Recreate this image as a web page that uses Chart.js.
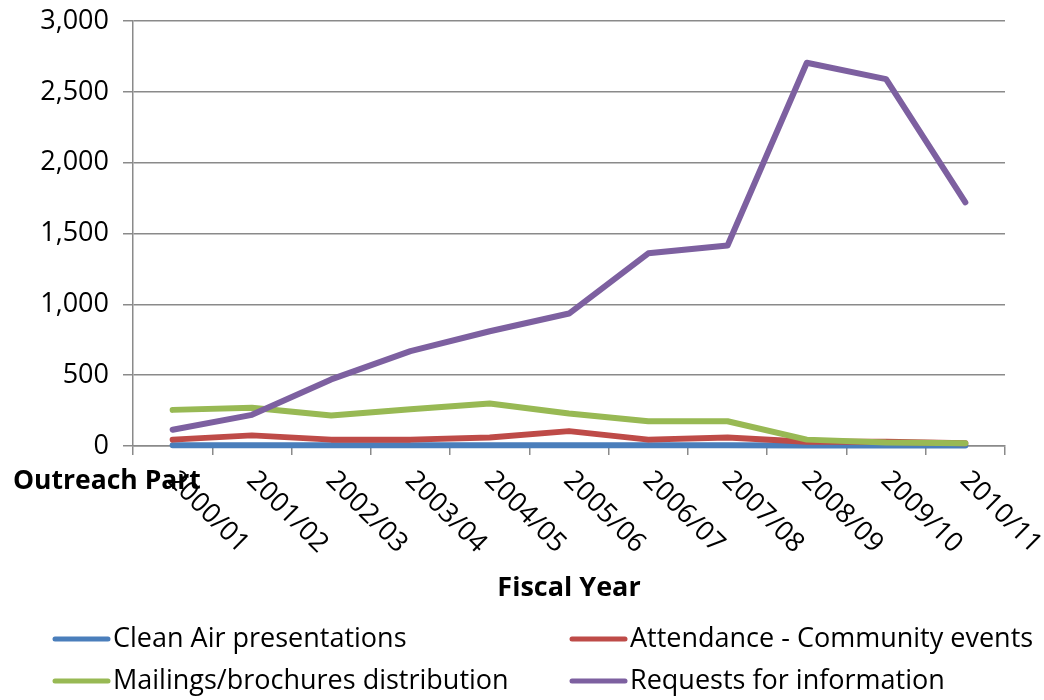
<!DOCTYPE html>
<html>
<head>
<meta charset="utf-8">
<script src="https://cdn.jsdelivr.net/npm/chart.js@4.4.1/dist/chart.umd.min.js"></script>
<style>
  html, body { margin: 0; padding: 0; background: #fff; }
  #wrap { width: 1044px; height: 700px; }
</style>
</head>
<body>
<div id="wrap"><canvas id="outreach-chart" width="1044" height="700"></canvas></div>
<script>
// Fiscal years on the x axis
const fiscalYears = [
  "2000/01", "2001/02", "2002/03", "2003/04", "2004/05", "2005/06",
  "2006/07", "2007/08", "2008/09", "2009/10", "2010/11",
];

// Outreach participants per activity
const cleanAirPresentations = [5, 6, 5, 5, 5, 6, 5, 5, 4, 3, 3];
const communityEvents = [45, 75, 45, 45, 60, 105, 45, 60, 30, 30, 20];
const mailingsDistribution = [255, 270, 215, 260, 300, 230, 175, 175, 45, 25, 20];
const infoRequests = [115, 220, 470, 670, 810, 935, 1360, 1415, 2705, 2590, 1720];

// Y axis range
const yMin = 0;
const yMax = 3000;
const yStep = 500;

const FONT = "'Open Sans', 'DejaVu Sans', sans-serif";
const GRID = "#8a8a8a";

// Rotated category labels, axis titles and the two-column legend
const annotations = {
  id: "annotations",
  afterDraw(chart) {
    const { ctx, chartArea } = chart;
    const xScale = chart.scales.x;
    ctx.save();
    ctx.fillStyle = "#000";

    // category labels, slanting down to the right
    ctx.font = `27px ${FONT}`;
    ctx.textAlign = "left";
    ctx.textBaseline = "middle";
    xScale.ticks.forEach((tick, i) => {
      const x = xScale.getPixelForTick(i);
      ctx.save();
      ctx.translate(x - 1, chartArea.bottom + 30);
      ctx.rotate(Math.PI / 4);
      ctx.fillText(fiscalYears[i], 0, 0);
      ctx.restore();
    });

    // axis titles
    ctx.font = `bold 27px ${FONT}`;
    ctx.textAlign = "center";
    ctx.fillText("Fiscal Year", (chartArea.left + chartArea.right) / 2, 588);
    ctx.textAlign = "left";
    ctx.font = `bold 26.5px ${FONT}`;
    ctx.fillText("Outreach Part", 13, 481);

    // legend
    const cols = [53, 570];
    const rows = [639, 681];
    ctx.font = `27px ${FONT}`;
    ctx.lineCap = "round";
    chart.data.datasets.forEach((ds, i) => {
      const x = cols[i % 2];
      const y = rows[Math.floor(i / 2)];
      ctx.strokeStyle = ds.borderColor;
      ctx.lineWidth = 5;
      ctx.beginPath();
      ctx.moveTo(x + 2, y);
      ctx.lineTo(x + 55, y);
      ctx.stroke();
      ctx.fillText(ds.label, x + 60, y);
    });
    ctx.restore();
  },
};

function lineSeries(label, data, color, order) {
  return {
    label,
    data,
    borderColor: color,
    backgroundColor: color,
    borderWidth: 6,
    borderCapStyle: "round",
    borderJoinStyle: "round",
    pointRadius: 0,
    tension: 0,
    fill: false,
    order,
    clip: false,
  };
}

function initOutreachChart() {
  const ctx = document.getElementById("outreach-chart").getContext("2d");
  new Chart(ctx, {
    type: "line",
    data: {
      labels: fiscalYears,
      datasets: [
        lineSeries("Clean Air presentations", cleanAirPresentations, "#4a7ebb", 4),
        lineSeries("Attendance - Community events", communityEvents, "#be4b48", 3),
        lineSeries("Mailings/brochures distribution", mailingsDistribution, "#98b954", 2),
        lineSeries("Requests for information", infoRequests, "#7d60a0", 1),
      ],
    },
    options: {
      responsive: false,
      animation: false,
      events: [],
      layout: { padding: { top: 21, right: 39, bottom: 0, left: 0 } },
      plugins: {
        legend: { display: false },
        tooltip: { enabled: false },
      },
      scales: {
        x: {
          offset: true,
          grid: {
            offset: true,
            drawOnChartArea: false,
            drawTicks: true,
            tickLength: 9,
            color: GRID,
            lineWidth: 1.5,
          },
          border: { display: true, color: GRID, width: 1.5 },
          ticks: { display: false },
          afterFit(scale) {
            scale.height = 700 - 446;
            scale.paddingLeft = 0;
            scale.paddingRight = 0;
          },
        },
        y: {
          min: yMin,
          max: yMax,
          grid: {
            color: GRID,
            lineWidth: 1.5,
            drawTicks: true,
            tickLength: 10,
          },
          border: { display: true, color: GRID, width: 1.5 },
          ticks: {
            stepSize: yStep,
            padding: 14,
            color: "#000",
            font: { family: FONT, size: 27 },
            callback: (v) => v.toLocaleString("en-US"),
          },
          afterFit(scale) {
            scale.width = 133;
            scale.paddingTop = 0;
            scale.paddingBottom = 0;
          },
        },
      },
    },
    plugins: [annotations],
  });
}

document.addEventListener("DOMContentLoaded", initOutreachChart);
</script>
</body>
</html>
